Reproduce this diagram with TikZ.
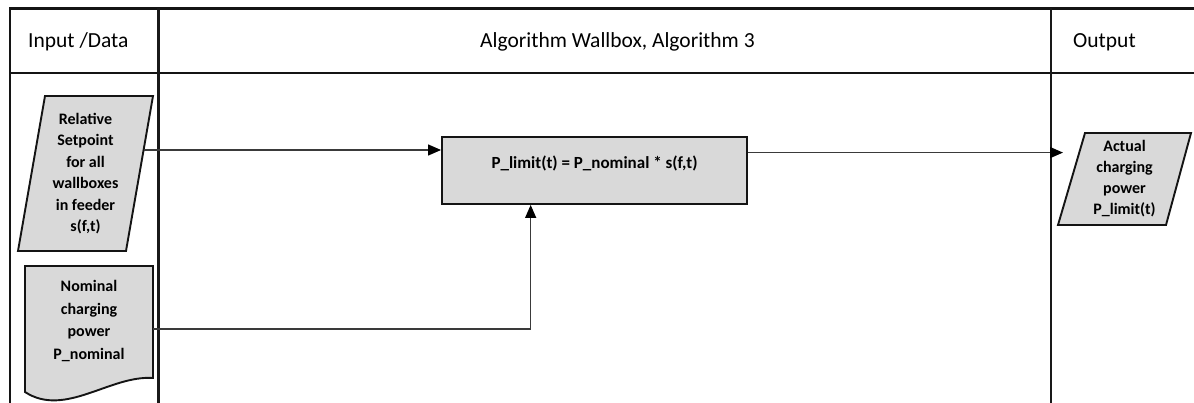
\documentclass[tikz,border=0pt]{standalone}
\usepackage{fontspec}
\setmainfont{Carlito}
\usetikzlibrary{arrows.meta,calc}
\definecolor{shapefill}{HTML}{D9D9D9}
\definecolor{connline}{HTML}{3A3A3A}
\tikzset{
  frame/.style={line width=2.7pt, draw=black!92},
  divider/.style={line width=2.1pt, draw=black!90},
  shapeline/.style={draw=black!92, fill=shapefill, line width=1.9pt, line join=miter},
  conn/.style={draw=connline, line width=1.3pt},
  arrowconn/.style={conn, -{Triangle[length=13pt,width=11pt,color=black]}},
  head/.style={font=\fontsize{21.5}{26}\selectfont, inner sep=0pt, anchor=base west},
  shapetext/.style={font=\bfseries\fontsize{16}{21.5}\selectfont, align=center, inner sep=0pt},
}
\begin{document}
\begin{tikzpicture}[x=1pt,y=-1pt]
\useasboundingbox (0,0) rectangle (1194,403);
\clip (0,0) rectangle (1194,403);

% swimlane frame
\draw[frame] (10,403) -- (10,8.5) -- (1194,8.5);
\draw[frame] (10,73) -- (1194,73);
\draw[divider] (158.5,8.5) -- (158.5,403);
\draw[divider] (1051,8.5) -- (1051,403);

% lane headings
\node[head] (hdrin)  at (28,48)   {Input /Data};
\node[head] (hdralg) at (480,48)  {Algorithm Wallbox, Algorithm 3};
\node[head] (hdrout) at (1073,48) {Output};

% input data: relative setpoint
\filldraw[shapeline] (45,96) -- (153,96) -- (126,251) -- (18,251) -- cycle;
\node[shapetext] (setpoint) at (85.5,173.5)
  {Relative\\Setpoint\\for all\\wallboxes\\in feeder\\s(f,t)};
\coordinate (sp-out) at (143.8,150);

% input data: nominal charging power (document)
\filldraw[shapeline] (25,266) -- (153,266) -- (153,378)
  .. controls (110,375) and (65,418) .. (25,392) -- cycle;
\node[shapetext, font=\bfseries\fontsize{16}{22.5}\selectfont] (nominal) at (89,321)
  {Nominal\\charging\\power\\P\_nominal};
\coordinate (doc-out) at (153,329);

% processing step
\node[shapeline, minimum width=305pt, minimum height=67pt, inner sep=0pt,
      font=\bfseries\fontsize{17}{20}\selectfont, text height=12pt, text depth=16pt]
  (calc) at (594.5,170.5) {P\_limit(t) = P\_nominal * s(f,t)};
\coordinate (calc-out) at ($(calc.north east)!0.24!(calc.south east)$);

% output
\filldraw[shapeline] (1085,133) -- (1191,133) -- (1166,225) -- (1058,225) -- cycle;
\node[shapetext, font=\bfseries\fontsize{16}{21}\selectfont] (actual) at (1124.5,179)
  {Actual\\charging\\power\\P\_limit(t)};
\coordinate (act-in) at (1063,153);

% connectors
\draw[arrowconn] (sp-out) -- (sp-out -| calc.west);
\draw[arrowconn] (doc-out) -| ($(calc.south west)!0.292!(calc.south east)$);
\draw[arrowconn] (calc-out) -- (calc-out -| act-in);
\end{tikzpicture}
\end{document}
